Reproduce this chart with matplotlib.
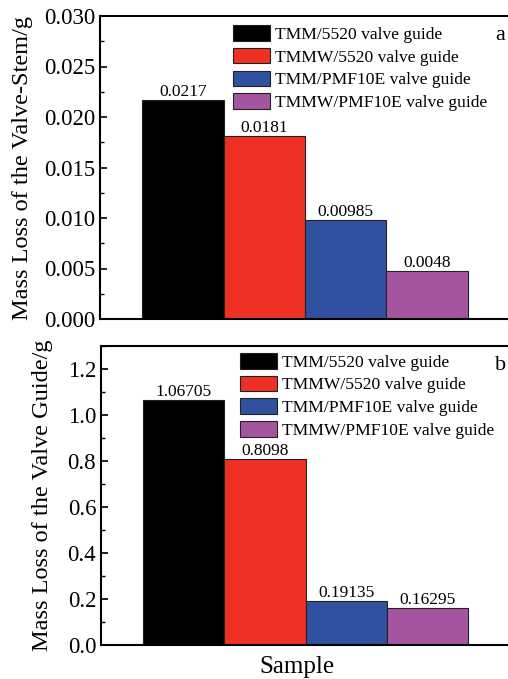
import matplotlib
matplotlib.use('Agg')
import matplotlib.pyplot as plt
from matplotlib.ticker import MultipleLocator

plt.rcParams['font.family'] = ['Liberation Serif', 'DejaVu Serif']

#%% data
samples = ['TMM/5520 valve guide', 'TMMW/5520 valve guide',
           'TMM/PMF10E valve guide', 'TMMW/PMF10E valve guide']
stem_loss = [0.0217, 0.0181, 0.00985, 0.0048]
stem_text = ['0.0217', '0.0181', '0.00985', '0.0048']
guide_loss = [1.06705, 0.8098, 0.19135, 0.16295]
guide_text = ['1.06705', '0.8098', '0.19135', '0.16295']
colors = ['#000000', '#EE3124', '#3050A0', '#A555A0']

#%% plot
fig = plt.figure(figsize=(5.08, 6.79), dpi=100)
W, H = 508.0, 679.0
ax1 = fig.add_axes([100 / W, 1 - 319 / H, 410 / W, 303 / H])
ax2 = fig.add_axes([101 / W, 1 - 645 / H, 409 / W, 299 / H])

def draw(ax, vals, texts, ylim, major, minor, fmt, ylabel, tag, lab_x, leg_pos):
    xs = range(len(vals))
    for x, v, c, lab in zip(xs, vals, colors, samples):
        ax.bar(x, v, width=1.0, color=c, edgecolor='#222222', linewidth=0.8, label=lab)
    for x, v, t in zip(xs, vals, texts):
        ax.text(x, v, t, ha='center', va='bottom', fontsize=12.5)
    ax.set_xlim(-1.02, 4.02)
    ax.set_ylim(*ylim)
    ax.yaxis.set_major_locator(MultipleLocator(major))
    ax.yaxis.set_minor_locator(MultipleLocator(minor))
    ax.yaxis.set_major_formatter(plt.FormatStrFormatter(fmt))
    ax.tick_params(axis='y', which='both', direction='in', labelsize=16.5)
    ax.tick_params(axis='y', which='major', length=5, width=1.2)
    ax.tick_params(axis='y', which='minor', length=3, width=1)
    ax.set_xticks([])
    for s in ax.spines.values():
        s.set_linewidth(1.5)
    ax.set_ylabel(ylabel, fontsize=17.5)
    ax.yaxis.set_label_coords(lab_x, 0.5)
    ax.legend(loc='upper left', bbox_to_anchor=leg_pos, frameon=False,
              fontsize=12.6, handlelength=2.1, handleheight=1.0,
              handletextpad=0.3, labelspacing=0.28, borderpad=0.0,
              borderaxespad=0.0)
    ax.text(0.963, 0.92, tag, transform=ax.transAxes, fontsize=16)

draw(ax1, stem_loss, stem_text, (0, 0.030), 0.005, 0.0025, '%.3f',
     'Mass Loss of the Valve-Stem/g', 'a', -0.163, (0.324, 0.97))
draw(ax2, guide_loss, guide_text, (0, 1.3), 0.2, 0.1, '%.1f',
     'Mass Loss of the Valve Guide/g', 'b', -0.117, (0.34, 0.977))
ax2.set_xlabel('Sample', fontsize=18)
ax2.xaxis.set_label_coords(0.48, -0.036)

fig.savefig('out.png', dpi=100)
